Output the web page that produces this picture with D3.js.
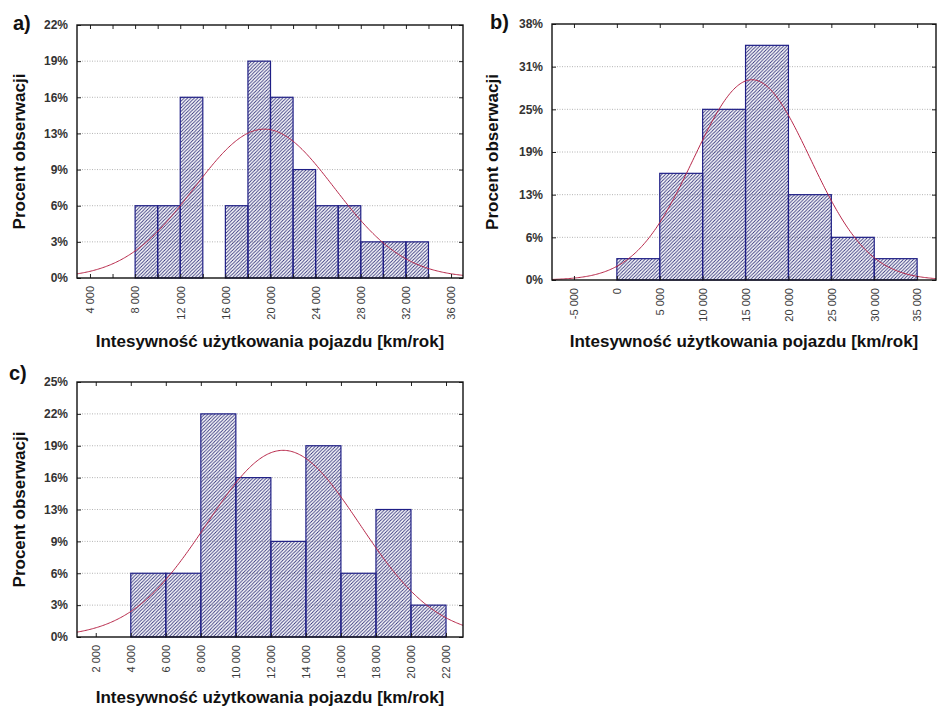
<!DOCTYPE html>
<html lang="pl">
<head>
    <meta charset="UTF-8">
    <script src="https://d3js.org/d3.v7.min.js"></script>
    <style>
        body { margin: 0; background: #fff; }
        text { font-family: "Liberation Sans", Arial, sans-serif; }
    </style>
</head>
<body>
    <div id="here"></div>

    <script>
        // --- data (counts per bin, n = 32) ---
        const nObs = 32;

        // a)
        const edgesA = [8000, 10000, 12000, 14000, 16000, 18000, 20000, 22000, 24000, 26000, 28000, 30000, 32000, 34000];
        const countsA = [2, 2, 5, 0, 2, 6, 5, 3, 2, 2, 1, 1, 1];
        const yLabelsA = ["0%", "3%", "6%", "9%", "13%", "16%", "19%", "22%"];
        const xLabelsA = [4000, 8000, 12000, 16000, 20000, 24000, 28000, 32000, 36000];
        const xTicksA = [4000, 6000, 8000, 10000, 12000, 14000, 16000, 18000, 20000, 22000, 24000, 26000, 28000, 30000, 32000, 34000, 36000];
        const meanA = 19450, sdA = 6200;

        // b)
        const edgesB = [0, 5000, 10000, 15000, 20000, 25000, 30000, 35000];
        const countsB = [1, 5, 8, 11, 4, 2, 1];
        const yLabelsB = ["0%", "6%", "13%", "19%", "25%", "31%", "38%"];
        const xLabelsB = [-5000, 0, 5000, 10000, 15000, 20000, 25000, 30000, 35000];
        const xTicksB = xLabelsB;
        const meanB = 15750, sdB = 6800;

        // c)
        const edgesC = [4000, 6000, 8000, 10000, 12000, 14000, 16000, 18000, 20000, 22000];
        const countsC = [2, 2, 7, 5, 3, 6, 2, 4, 1];
        const yLabelsC = ["0%", "3%", "6%", "9%", "13%", "16%", "19%", "22%", "25%"];
        const xLabelsC = [2000, 4000, 6000, 8000, 10000, 12000, 14000, 16000, 18000, 20000, 22000];
        const xTicksC = xLabelsC;
        const meanC = 12700, sdC = 4360;

        const xTitle = "Intesywność użytkowania pojazdu [km/rok]";
        const yTitle = "Procent obserwacji";

        const fmt = d3.formatLocale({ decimal: ",", thousands: " ", grouping: [3], currency: ["", ""], minus: "-" }).format(",");

        const svg = d3.select("#here")
            .append("svg")
                .attr("width", 937)
                .attr("height", 708);

        svg.append("rect").attr("width", 937).attr("height", 708).attr("fill", "#fff");

        // diagonal hatch for the bars
        const defs = svg.append("defs");
        defs.append("pattern")
            .attr("id", "hatch")
            .attr("patternUnits", "userSpaceOnUse")
            .attr("width", 3.4)
            .attr("height", 3.4)
            .append("path")
                .attr("d", "M-0.85,0.85 l1.7,-1.7 M0,3.4 l3.4,-3.4 M2.55,4.25 l1.7,-1.7")
                .attr("stroke", "#2e2e78")
                .attr("stroke-width", 0.9);

        const panels = [
            { tag: "a)", edges: edgesA, counts: countsA, yLabels: yLabelsA, yStep: 1, xLabels: xLabelsA, xTicks: xTicksA,
              mean: meanA, sd: sdA, left: 77, right: 463, top: 25, bottom: 278, xDomain: [2850, 37060],
              tagX: 13, tagY: 30, yTitleX: 25, xTitleY: 347 },
            { tag: "b)", edges: edgesB, counts: countsB, yLabels: yLabelsB, yStep: 2, xLabels: xLabelsB, xTicks: xTicksB,
              mean: meanB, sd: sdB, left: 552, right: 936, top: 24, bottom: 280, xDomain: [-7560, 37200],
              tagX: 490, tagY: 29, yTitleX: 498, xTitleY: 347 },
            { tag: "c)", edges: edgesC, counts: countsC, yLabels: yLabelsC, yStep: 1, xLabels: xLabelsC, xTicks: xTicksC,
              mean: meanC, sd: sdC, left: 77, right: 463, top: 382, bottom: 637, xDomain: [930, 22970],
              tagX: 9, tagY: 380, yTitleX: 25, xTitleY: 703 }
        ];

        panels.forEach(p => {
            const g = svg.append("g");
            const yTickVals = p.yLabels.map((_, i) => i * p.yStep);

            const x = d3.scaleLinear().domain(p.xDomain).range([p.left, p.right]);
            const y = d3.scaleLinear().domain([0, d3.max(yTickVals)]).range([p.bottom, p.top]);

            // dotted grid
            g.selectAll(".grid")
                .data(yTickVals.slice(1, -1))
                .join("line")
                    .attr("x1", p.left)
                    .attr("x2", p.right)
                    .attr("y1", d => y(d))
                    .attr("y2", d => y(d))
                    .attr("stroke", "#b4b4b4")
                    .attr("stroke-dasharray", "1,1.5");

            const bins = p.counts.map((c, i) => ({ x0: p.edges[i], x1: p.edges[i + 1], c }))
                .filter(d => d.c > 0);

            g.selectAll(".bar")
                .data(bins)
                .join("rect")
                    .attr("x", d => x(d.x0))
                    .attr("y", d => y(d.c))
                    .attr("width", d => x(d.x1) - x(d.x0))
                    .attr("height", d => y(0) - y(d.c))
                    .attr("fill", "url(#hatch)")
                    .attr("stroke", "#1f1f86")
                    .attr("stroke-width", 1.2);

            // fitted normal curve, scaled to counts per bin
            const binW = p.edges[1] - p.edges[0];
            const pts = d3.range(p.xDomain[0], p.xDomain[1], (p.xDomain[1] - p.xDomain[0]) / 300).concat([p.xDomain[1]]);
            const normal = v => nObs * binW / (p.sd * Math.sqrt(2 * Math.PI)) * Math.exp(-0.5 * Math.pow((v - p.mean) / p.sd, 2));
            g.append("path")
                .datum(pts)
                .attr("fill", "none")
                .attr("stroke", "#b8284a")
                .attr("stroke-width", 1)
                .attr("d", d3.line().x(d => x(d)).y(d => y(normal(d))));

            // axes with inward ticks
            const xAxis = g.append("g")
                .attr("transform", `translate(0,${p.bottom})`)
                .call(d3.axisBottom(x).tickValues(p.xTicks).tickSizeInner(-4).tickSizeOuter(0).tickPadding(7)
                    .tickFormat(d => p.xLabels.includes(d) ? fmt(d) : ""));
            xAxis.selectAll("text")
                .attr("transform", "rotate(-90)")
                .attr("x", -8)
                .attr("y", 0)
                .attr("dy", "0.35em")
                .style("text-anchor", "end")
                .attr("font-size", 11)
                .attr("fill", "#3a3a3a");

            g.append("g")
                .attr("transform", `translate(0,${p.top})`)
                .call(d3.axisTop(x).tickValues(p.xTicks).tickSizeInner(-4).tickSizeOuter(0).tickFormat(""));

            g.append("g")
                .attr("transform", `translate(${p.left},0)`)
                .call(d3.axisLeft(y).tickValues(yTickVals).tickSizeInner(-4).tickSizeOuter(0).tickPadding(9)
                    .tickFormat((d, i) => p.yLabels[i]))
                .selectAll("text")
                    .attr("font-size", 12)
                    .attr("font-weight", "bold")
                    .attr("fill", "#333");

            g.append("g")
                .attr("transform", `translate(${p.right},0)`)
                .call(d3.axisRight(y).tickValues(yTickVals).tickSizeInner(-4).tickSizeOuter(0).tickFormat(""));

            g.selectAll(".domain").remove();
            g.selectAll(".tick line").attr("stroke", "#222");

            // frame
            g.append("rect")
                .attr("x", p.left)
                .attr("y", p.top)
                .attr("width", p.right - p.left)
                .attr("height", p.bottom - p.top)
                .attr("fill", "none")
                .attr("stroke", "#111")
                .attr("stroke-width", 1.4);

            // titles
            g.append("text")
                .attr("x", (p.left + p.right) / 2)
                .attr("y", p.xTitleY)
                .attr("text-anchor", "middle")
                .attr("font-size", 17)
                .attr("font-weight", "bold")
                .attr("fill", "#111")
                .text(xTitle);

            g.append("text")
                .attr("transform", `translate(${p.yTitleX},${(p.top + p.bottom) / 2}) rotate(-90)`)
                .attr("text-anchor", "middle")
                .attr("font-size", 17)
                .attr("font-weight", "bold")
                .attr("fill", "#111")
                .text(yTitle);

            g.append("text")
                .attr("x", p.tagX)
                .attr("y", p.tagY)
                .attr("font-size", 20)
                .attr("font-weight", "bold")
                .attr("fill", "#111")
                .text(p.tag);
        });
    </script>
</body>
</html>
